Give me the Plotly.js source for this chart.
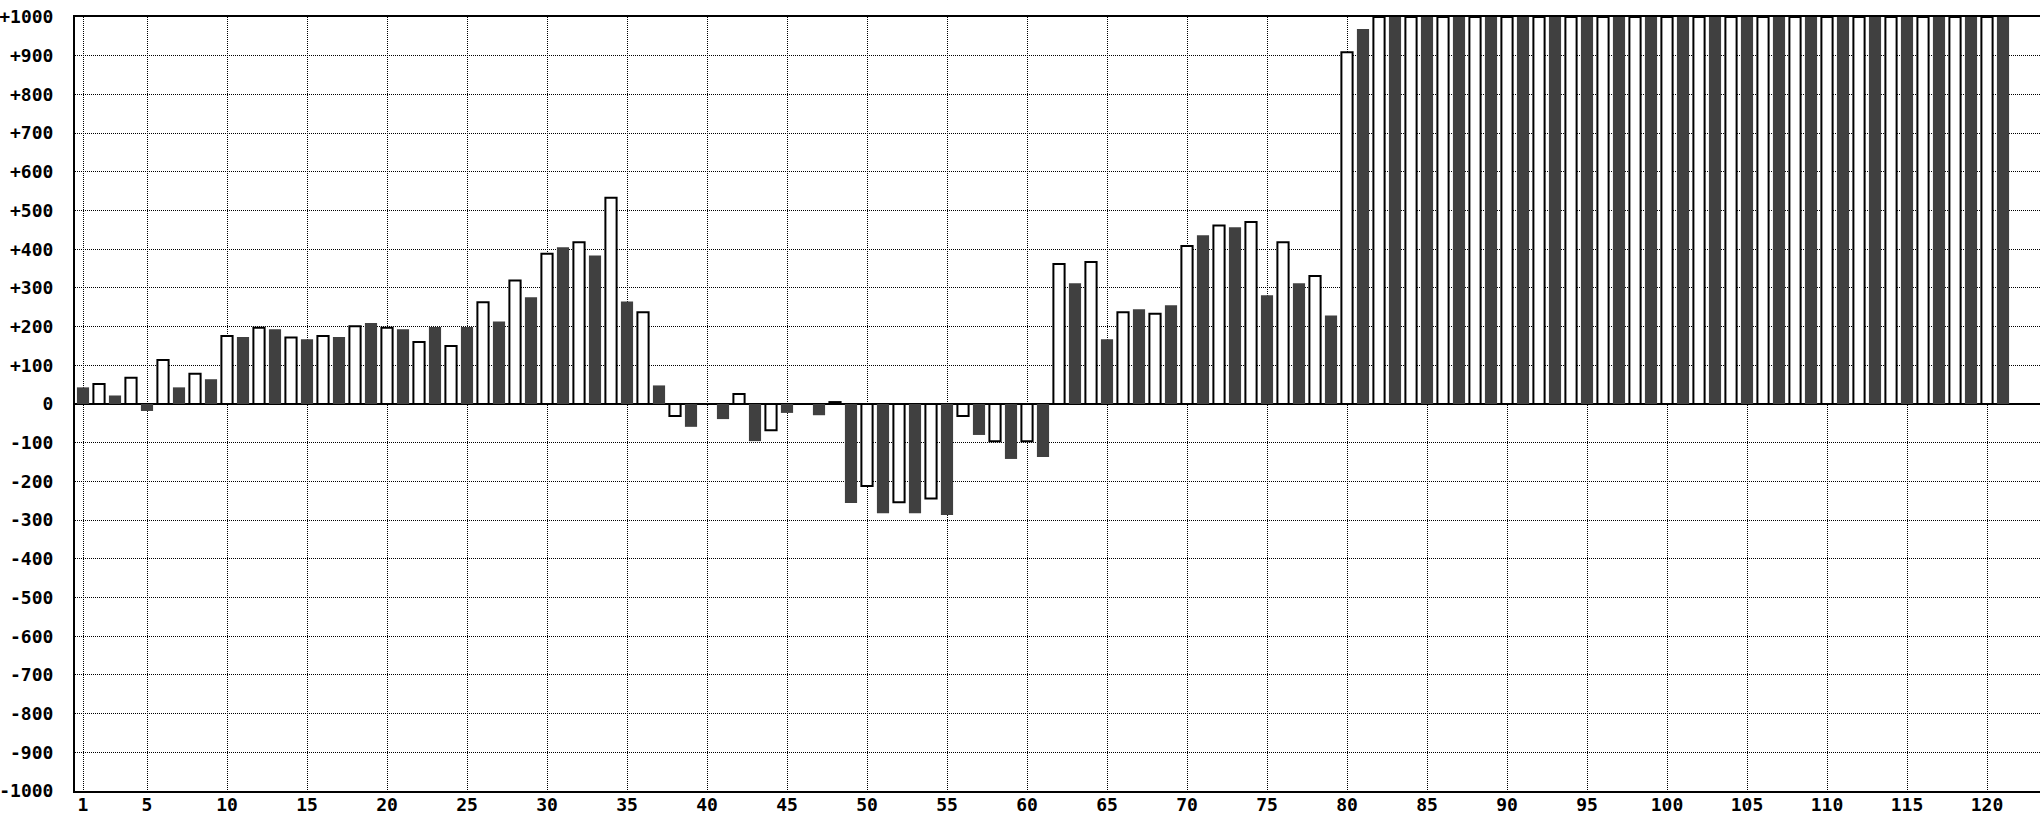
<!DOCTYPE html>
<html>
<head>
<meta charset="utf-8">
<script src="https://cdn.plot.ly/plotly-3.0.1.min.js"></script>
<style>
html,body{margin:0;padding:0;background:#fff;}
#chart{width:2040px;height:814px;}
.gridlayer path{shape-rendering:crispEdges;}
</style>
</head>
<body>
<div id="chart"></div>
<script>
// Dark (filled) bars at odd positions
const darkPositions = [1,3,5,7,9,11,13,15,17,19,21,23,25,27,29,31,33,35,37,39,41,43,45,47,49,51,53,55,57,59,61,63,65,67,69,71,73,75,77,79,81,83,85,87,89,91,93,95,97,99,101,103,105,107,109,111,113,115,117,119,121];
const darkValues = [43,22,-18,43,64,173,193,167,173,209,193,199,199,213,276,405,384,265,48,-59,-39,-96,-23,-29,-256,-282,-282,-287,-80,-142,-137,312,167,245,255,436,457,281,312,229,969,1000,1000,1000,1000,1000,1000,1000,1000,1000,1000,1000,1000,1000,1000,1000,1000,1000,1000,1000,1000];

// White (outlined) bars at even positions
const lightPositions = [2,4,6,8,10,12,14,16,18,20,22,24,26,28,30,32,34,36,38,40,42,44,46,48,50,52,54,56,58,60,62,64,66,68,70,72,74,76,78,80,82,84,86,88,90,92,94,96,98,100,102,104,106,108,110,112,114,116,118,120];
const lightValues = [52,68,114,78,176,197,172,176,201,197,160,150,263,319,388,418,533,237,-31,0,26,-68,0,5,-212,-254,-244,-31,-96,-96,362,367,237,233,408,461,470,418,331,909,1000,1000,1000,1000,1000,1000,1000,1000,1000,1000,1000,1000,1000,1000,1000,1000,1000,1000,1000,1000];

// Axis ticks
const xTickValues = [1,5,10,15,20,25,30,35,40,45,50,55,60,65,70,75,80,85,90,95,100,105,110,115,120];
const xTickLabels = ["1","5","10","15","20","25","30","35","40","45","50","55","60","65","70","75","80","85","90","95","100","105","110","115","120"];
const yTickValues = [1000,900,800,700,600,500,400,300,200,100,0,-100,-200,-300,-400,-500,-600,-700,-800,-900,-1000];
const yTickLabels = ["+1000","+900","+800","+700","+600","+500","+400","+300","+200","+100","0","-100","-200","-300","-400","-500","-600","-700","-800","-900","-1000"];

const tickFont = {family: "DejaVu Sans Mono", size: 18, color: "#000", weight: "bold"};

const traces = [
  {
    type: "bar",
    x: darkPositions,
    y: darkValues,
    width: 0.76,
    marker: {color: "#404040", line: {width: 0}},
    hoverinfo: "x+y"
  },
  {
    type: "bar",
    x: lightPositions,
    y: lightValues,
    width: 0.7,
    marker: {color: "#ffffff", line: {color: "#000000", width: 2}},
    hoverinfo: "x+y"
  }
];

const layout = {
  width: 2040,
  height: 814,
  margin: {l: 75, r: 0, t: 17, b: 23, pad: 0},
  paper_bgcolor: "#ffffff",
  plot_bgcolor: "#ffffff",
  showlegend: false,
  barmode: "overlay",
  xaxis: {
    range: [0.5, 123.3125],
    tickmode: "array",
    tickvals: xTickValues,
    ticktext: xTickLabels,
    tickangle: 0,
    ticks: "",
    ticklabelstandoff: -4,
    tickfont: tickFont,
    showgrid: true,
    gridcolor: "#000000",
    gridwidth: 1,
    griddash: "1px,1px",
    showline: true,
    linecolor: "#000000",
    linewidth: 2,
    mirror: true,
    zeroline: false,
    fixedrange: true
  },
  yaxis: {
    range: [-1000, 1000],
    tickmode: "array",
    tickvals: yTickValues,
    ticktext: yTickLabels,
    ticks: "",
    ticklabelstandoff: 16,
    tickfont: tickFont,
    showgrid: true,
    gridcolor: "#000000",
    gridwidth: 1,
    griddash: "1px,1px",
    showline: true,
    linecolor: "#000000",
    linewidth: 2,
    mirror: false,
    zeroline: true,
    zerolinecolor: "#000000",
    zerolinewidth: 2,
    fixedrange: true
  }
};

Plotly.newPlot("chart", traces, layout, {displayModeBar: false, staticPlot: true});
</script>
</body>
</html>
